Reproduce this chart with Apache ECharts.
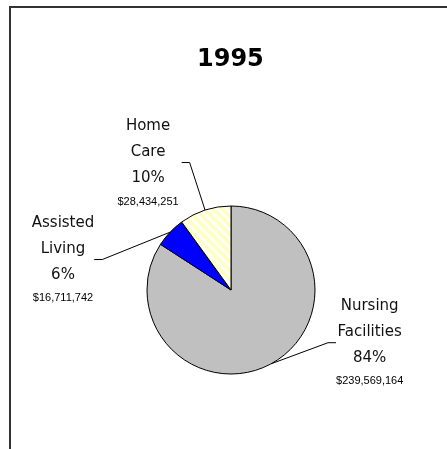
<!DOCTYPE html>
<html>
<head>
<meta charset="utf-8">
<script src="https://cdn.jsdelivr.net/npm/echarts@6/dist/echarts.min.js"></script>
<style>
  html, body { margin: 0; padding: 0; background: #fff; }
  #frame {
    position: absolute; left: 9px; top: 6px; width: 436px; height: 460px;
    border-top: 2px solid #333; border-left: 2px solid #333; border-right: 2px solid #333;
  }
  #chart { position: absolute; left: 0; top: 0; width: 447px; height: 449px; }
</style>
</head>
<body>
<div id="frame"></div>
<div id="chart"></div>
<script>
// 数据
var titleText = '1995'
var categories = ['Nursing\nFacilities', 'Assisted\nLiving', 'Home\nCare']
var amounts = [239569164, 16711742, 28434251]
var sliceColors = ['#C0C0C0', '#0000FF', null]

// 斜条纹 (Home Care)
function stripePattern () {
  var c = document.createElement('canvas')
  c.width = 9
  c.height = 9
  var ctx = c.getContext('2d')
  ctx.fillStyle = '#FFFFC4'
  ctx.fillRect(0, 0, 9, 9)
  ctx.strokeStyle = '#FFFFFF'
  ctx.lineWidth = 2.5
  ctx.beginPath()
  ctx.moveTo(-2, -2); ctx.lineTo(11, 11)
  ctx.moveTo(-11, -2); ctx.lineTo(2, 11)
  ctx.moveTo(7, -2); ctx.lineTo(20, 11)
  ctx.stroke()
  return c
}

var pieData = categories.map(function (name, i) {
  return {
    name: name,
    value: amounts[i],
    itemStyle: {
      color: sliceColors[i] || { image: stripePattern(), repeat: 'repeat' }
    }
  }
})

var chart = echarts.init(document.getElementById('chart'), null, { renderer: 'canvas' })

var option = {
  backgroundColor: 'transparent',
  animation: false,
  title: {
    text: titleText,
    left: 192,
    top: 43,
    textStyle: {
      fontFamily: 'DejaVu Sans',
      fontWeight: 'bold',
      fontSize: 24,
      color: '#000'
    }
  },
  series: [
    {
      type: 'pie',
      center: [231, 290],
      radius: 84,
      startAngle: 90,
      clockwise: true,
      percentPrecision: 0,
      avoidLabelOverlap: true,
      itemStyle: {
        borderColor: '#000',
        borderWidth: 1
      },
      label: {
        position: 'outside',
        alignTo: 'none',
        distanceToLabelLine: 3,
        formatter: function (p) {
          var lines = p.name.split('\n').map(function (s) { return '{n|' + s + '}' })
          lines.push('{p|' + Math.round(p.percent) + '%}')
          lines.push('{v|$' + p.value.toLocaleString('en-US') + '}')
          return lines.join('\n')
        },
        rich: {
          n: { fontFamily: 'DejaVu Sans', fontSize: 15, lineHeight: 26, color: '#111', align: 'center' },
          p: { fontFamily: 'DejaVu Sans', fontSize: 15, lineHeight: 26, color: '#111', align: 'center' },
          v: { fontFamily: 'Liberation Sans', fontSize: 11, lineHeight: 20, color: '#000', align: 'center' }
        }
      },
      labelLine: {
        show: true,
        length: 50,
        length2: 8,
        lineStyle: { color: '#000', width: 1 }
      },
      // 微调标签位置 (Nursing 标签上移)
      labelLayout: function (params) {
        var r = params.labelRect
        var cy = r.y + r.height / 2
        if (params.dataIndex === 0) return { x: r.x + 30, y: cy - 66 }
        if (params.dataIndex === 1) return { x: r.x + r.width, y: cy + 6 }
        return {}
      },
      emphasis: { disabled: true },
      data: pieData
    }
  ]
}

chart.setOption(option)
</script>
</body>
</html>
